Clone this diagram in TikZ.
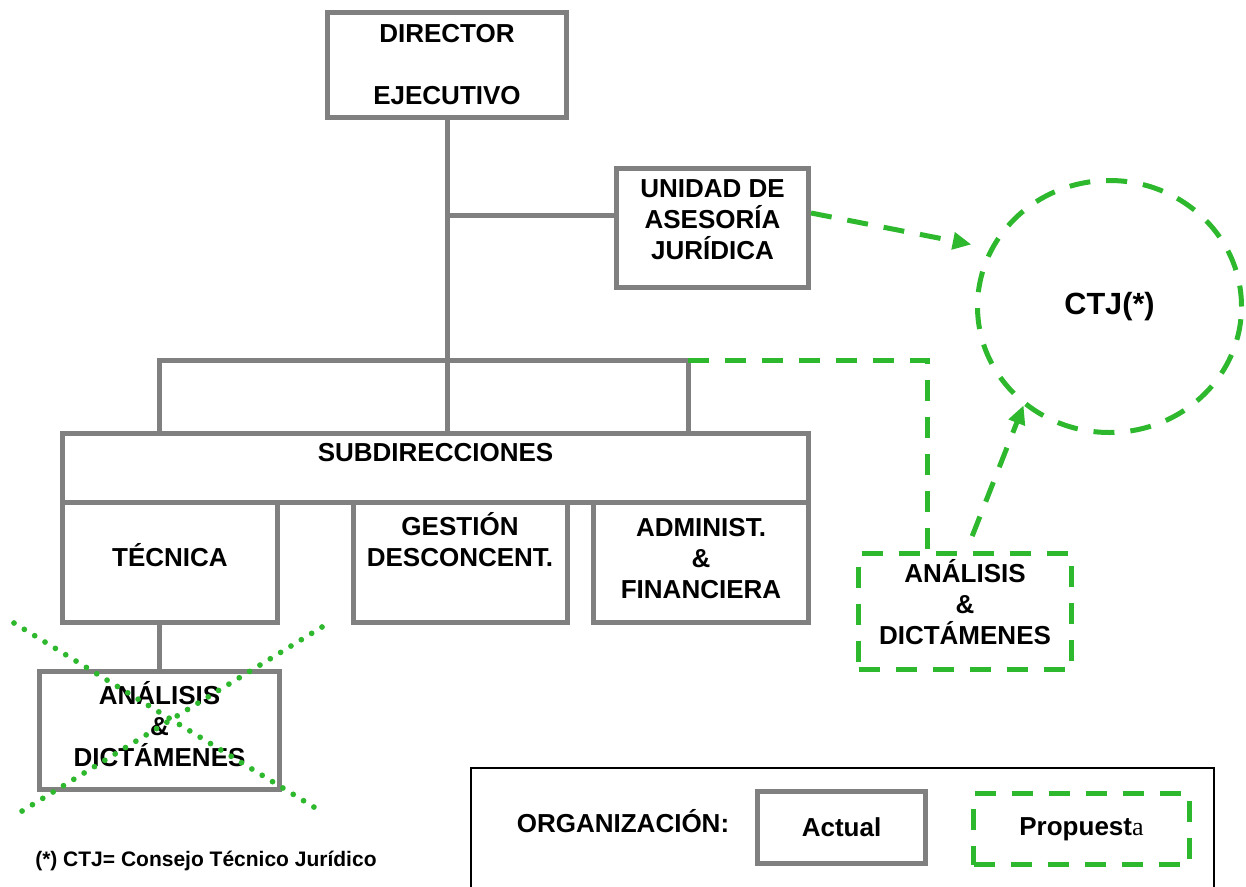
\documentclass[tikz,border=0pt]{standalone}
\usepackage{fontspec}
\setmainfont{Liberation Sans}
\newfontfamily\serifa{Liberation Serif}
\usepackage{tikz}
\usetikzlibrary{shapes,arrows.meta,calc}
\definecolor{boxgray}{RGB}{128,128,128}
\definecolor{propgreen}{RGB}{46,184,46}
\def\orgfont{\fontsize{19.5}{23.25}\selectfont\bfseries}
\def\ctjfont{\fontsize{23}{27}\selectfont\bfseries}
\def\notafont{\fontsize{15.75}{19}\selectfont\bfseries}
\tikzstyle{actual}=[draw=boxgray,line width=3.75pt,align=center,inner sep=0pt,font=\orgfont]
\tikzstyle{propuesta}=[draw=propgreen,line width=3.75pt,dash pattern=on 15.75pt off 12pt,align=center,inner sep=0pt,font=\orgfont]
\tikzstyle{grayline}=[draw=boxgray,line width=3.75pt]
\tikzstyle{greenline}=[draw=propgreen,line width=3.75pt,dash pattern=on 15.75pt off 12pt]
\tikzstyle{greenarrow}=[greenline,-{Triangle[length=14pt,width=12.5pt]}]
\tikzstyle{cross}=[draw=propgreen,line width=4.3pt,line cap=round,dash pattern=on 0pt off 9.1pt]
\tikzstyle{leyenda}=[draw=black,line width=1.5pt]
\tikzset{sz/.style 2 args={minimum width=#1,minimum height=#2}}

\begin{document}
\begin{tikzpicture}[x=0.75pt,y=-0.75pt]
    \clip (0,0) rectangle (1246,886);
    \node[actual,sz={179.25pt}{78.75pt}] (dir) at (447,65) {DIRECTOR\\\mbox{}\\EJECUTIVO};
    \node[actual,sz={144pt}{89.25pt}] (uaj) at (712.5,228) {UNIDAD DE\\ASESORÍA\\JURÍDICA\\[-11.25pt]\mbox{}};
    \node[actual,sz={559.5pt}{51.75pt}] (sub) at (435.5,467.5) {SUBDIRECCIONES\\\mbox{}};
    \node[actual,sz={161.25pt}{90pt}] (tec) at (170,562) {TÉCNICA\\[-12.75pt]\mbox{}};
    \node[actual,sz={160.5pt}{90pt}] (ges) at (460,562) {GESTIÓN\\DESCONCENT.\\[10.5pt]\mbox{}};
    \node[actual,sz={161.25pt}{90pt}] (adm) at (701,562) {ADMINIST.\\\&\\FINANCIERA\\[-17.25pt]\mbox{}};
    \node[actual,sz={180pt}{88.5pt}] (oldad) at (159.5,730.5) {ANÁLISIS\\\&\\DICTÁMENES\\[-12.75pt]\mbox{}};
    \node[propuesta,ellipse,sz={198pt}{189pt},font=\ctjfont] (ctj) at (1109.5,306.5) {CTJ(*)};
    \node[propuesta,sz={159.75pt}{87pt}] (newad) at (965,611.5) {ANÁLISIS\\\&\\DICTÁMENES\\[-8.25pt]\mbox{}};
    \coordinate (barL) at (159,360);
    \coordinate (barR) at (688,360);
    \draw[grayline] (dir.south) -- (dir.south |- sub.north);
    \draw[grayline] ($(uaj.west)+(0,-13)$) -- ($(dir.south |- uaj.west)+(0,-13)$);
    \draw[grayline] (barL |- sub.north) -- (barL) -- (barR) -- (barR |- sub.north);
    \draw[grayline] (oldad.north) -- (oldad.north |- tec.south);
    \draw[greenline] (barR) -| ([xshift=-28.5pt]newad.north);
    \draw[greenarrow,shorten >=14pt] ($(uaj.east)+(0,-15)$) -- (ctj.154);
    \draw[greenarrow,dash phase=15.75pt] ([xshift=1pt]newad.north) -- (ctj.229);
    \coordinate (xa) at (14,623);
    \coordinate (xb) at (322,812);
    \coordinate (xc) at (322,627);
    \coordinate (xd) at (14,816);
    \draw[cross] (xa) -- (xb);
    \draw[cross] (xc) -- (xd);
    \node[anchor=west,inner sep=0pt,font=\notafont] (nota) at (35,861) {(*) CTJ= Consejo Técnico Jurídico};
    \draw[leyenda] (471,900) |- (1214,768) -- (1214,900);
    \node[font=\orgfont] (org) at (623,821) {ORGANIZACIÓN:};
    \node[actual,sz={126pt}{54pt}] (act) at (841.5,827.5) {Actual};
    \node[propuesta,sz={162pt}{53.25pt}] (prop) at (1081.5,829) {Propuest{\serifa\mdseries a}};
\end{tikzpicture}
\end{document}
